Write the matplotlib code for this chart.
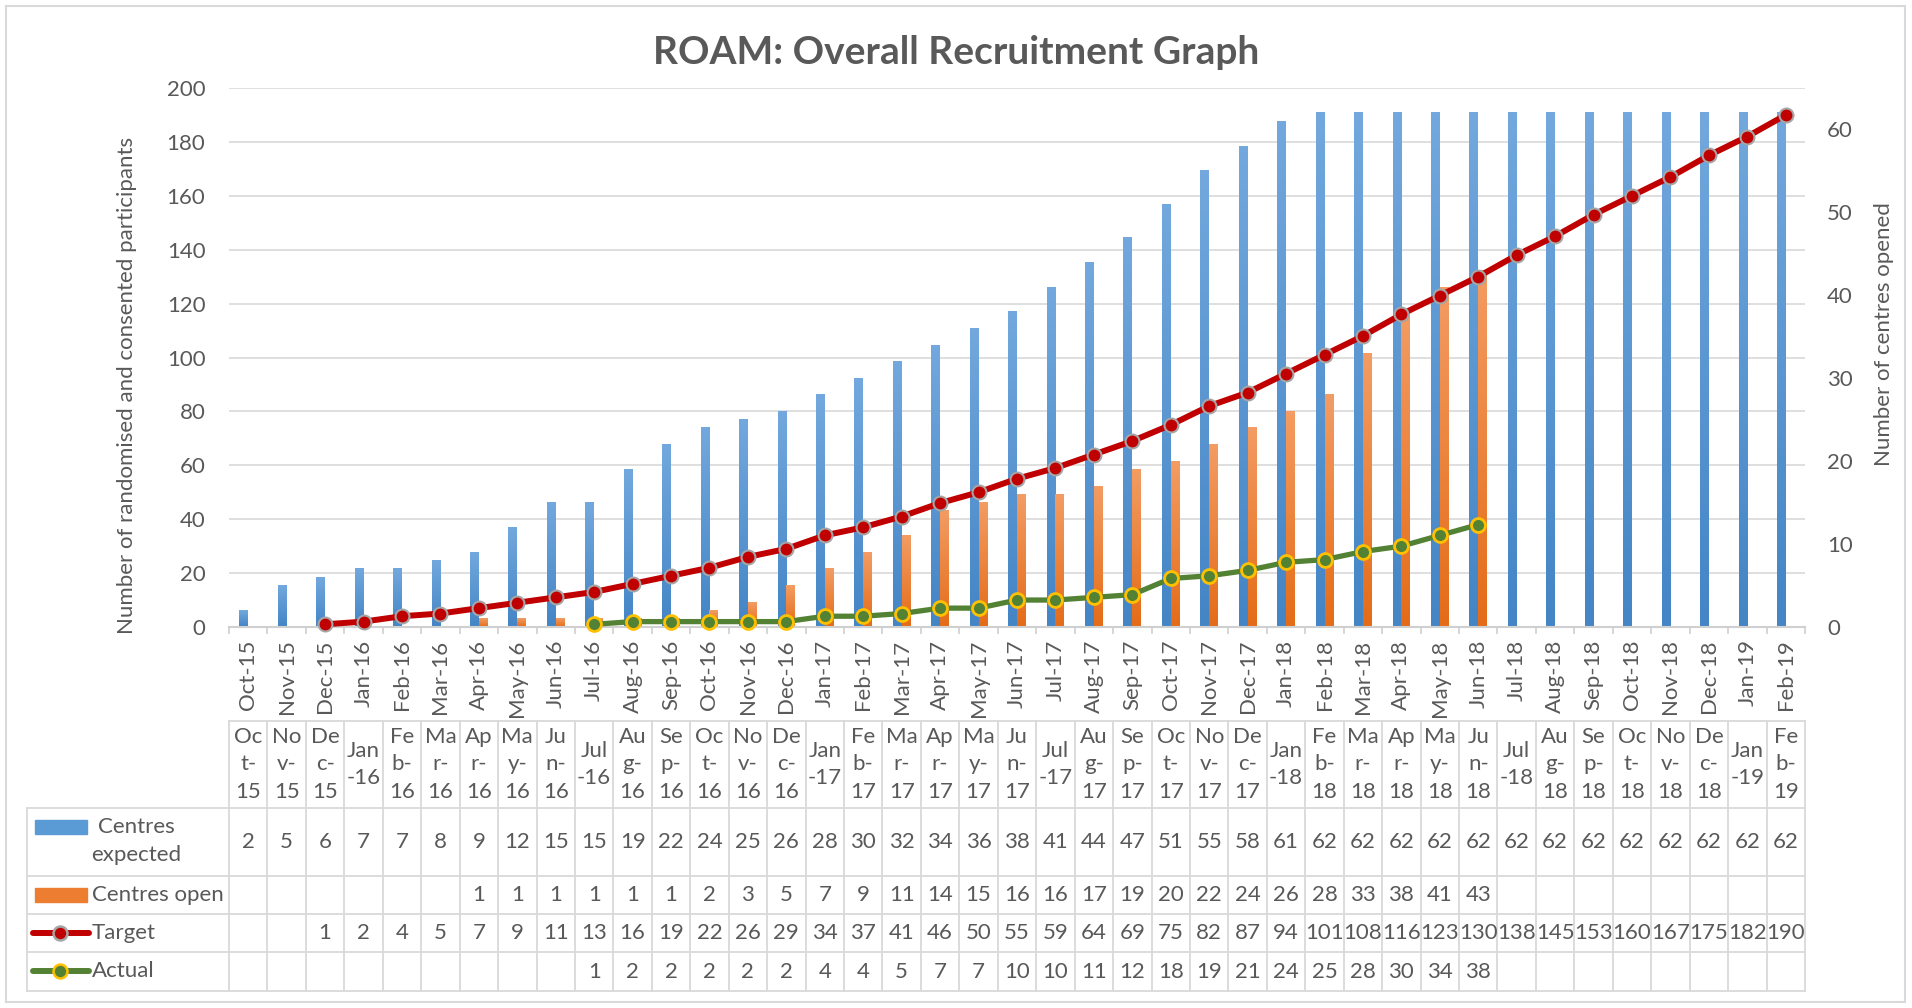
import numpy as np
import matplotlib
matplotlib.use("Agg")
import matplotlib.pyplot as plt
from matplotlib.colors import LinearSegmentedColormap
from matplotlib.patches import Rectangle
from matplotlib.lines import Line2D
from matplotlib.ticker import MultipleLocator
from matplotlib.transforms import blended_transform_factory

plt.rcParams['font.family'] = ['Lato', 'DejaVu Sans']

months = ['Oct-15', 'Nov-15', 'Dec-15',
          'Jan-16', 'Feb-16', 'Mar-16', 'Apr-16', 'May-16', 'Jun-16',
          'Jul-16', 'Aug-16', 'Sep-16', 'Oct-16', 'Nov-16', 'Dec-16',
          'Jan-17', 'Feb-17', 'Mar-17', 'Apr-17', 'May-17', 'Jun-17',
          'Jul-17', 'Aug-17', 'Sep-17', 'Oct-17', 'Nov-17', 'Dec-17',
          'Jan-18', 'Feb-18', 'Mar-18', 'Apr-18', 'May-18', 'Jun-18',
          'Jul-18', 'Aug-18', 'Sep-18', 'Oct-18', 'Nov-18', 'Dec-18',
          'Jan-19', 'Feb-19']
centres_expected = [2, 5, 6, 7, 7, 8, 9, 12, 15, 15, 19, 22, 24, 25, 26,
                    28, 30, 32, 34, 36, 38, 41, 44, 47, 51, 55, 58,
                    61, 62, 62, 62, 62, 62, 62, 62, 62, 62, 62, 62, 62, 62]
centres_open = [None, None, None, None, None, None, 1, 1, 1, 1, 1, 1, 2, 3, 5,
                7, 9, 11, 14, 15, 16, 16, 17, 19, 20, 22, 24,
                26, 28, 33, 38, 41, 43, None, None, None, None, None, None,
                None, None]
target = [None, None, 1, 2, 4, 5, 7, 9, 11, 13, 16, 19, 22, 26, 29,
          34, 37, 41, 46, 50, 55, 59, 64, 69, 75, 82, 87,
          94, 101, 108, 116, 123, 130, 138, 145, 153, 160, 167, 175, 182, 190]
actual = [None, None, None, None, None, None, None, None, None, 1, 2, 2, 2, 2, 2,
          4, 4, 5, 7, 7, 10, 10, 11, 12, 18, 19, 21,
          24, 25, 28, 30, 34, 38, None, None, None, None, None, None,
          None, None]

series_names = ['Centres\nexpected', 'Centres open', 'Target', 'Actual']

# ---- style ----
W, H = 1912, 1008
TXT = '#595959'
GRID = '#d9d9d9'
BLUE, BLUE_TOP, BLUE_BOT = '#5b9bd5', '#72a8dd', '#4485c6'
ORANGE, ORANGE_TOP, ORANGE_BOT = '#ed7d31', '#f39c63', '#e46c18'
RED, GREEN = '#c00000', '#548235'
FS = 16


def arr(v):
    return np.array([np.nan if a is None else a for a in v], dtype=float)


def fy(py):
    return 1 - py / H


def shade(ax, bars, c_top, c_bot):
    cmap = LinearSegmentedColormap.from_list('g', [c_bot, c_top])
    grad = np.linspace(0, 1, 64).reshape(-1, 1)
    for b in bars:
        h = b.get_height()
        if not np.isfinite(h) or h <= 0:
            continue
        x0, y0, w = b.get_x(), b.get_y(), b.get_width()
        ax.imshow(grad, extent=[x0, x0 + w, y0, y0 + h], origin='lower',
                  aspect='auto', cmap=cmap, zorder=b.get_zorder(),
                  interpolation='bilinear')
        b.set_alpha(0)


fig = plt.figure(figsize=(W / 100, H / 100), dpi=100)
ax = fig.add_axes([229 / W, fy(627), (1805 - 229) / W, (627 - 88) / H])
ax2 = ax.twinx()

x = np.arange(len(months))

# bars: centres (right axis)
b1 = ax.bar(x - 0.115, arr(centres_expected), width=0.23, color=BLUE, zorder=2)
b2 = ax.bar(x + 0.115, arr(centres_open), width=0.23, color=ORANGE, zorder=2)
shade(ax, b1, BLUE_TOP, BLUE_BOT)
shade(ax, b2, ORANGE_TOP, ORANGE_BOT)

ax.set_xlim(-0.5, len(months) - 0.5)
ax.set_ylim(0, 65)
ax.yaxis.tick_right()
ax.yaxis.set_major_locator(MultipleLocator(10))
ax.yaxis.set_minor_locator(MultipleLocator(6.5))   # left-axis gridlines every 20
ax.grid(which='minor', axis='y', color=GRID, lw=1.2, zorder=0)
ax.set_axisbelow(True)
ax.tick_params(axis='y', which='both', length=0, labelsize=FS, labelcolor=TXT, pad=16)

ax.set_xticks(x)
ax.set_xticklabels(months, rotation=90)
ax.set_xticks(np.arange(-0.5, len(months), 1), minor=True)
ax.tick_params(axis='x', which='major', length=0, labelsize=FS, labelcolor=TXT, pad=9)
ax.tick_params(axis='x', which='minor', length=5, width=1.2, color='#d0d0d0', direction='out')

for s in ['top', 'left', 'right']:
    ax.spines[s].set_visible(False)
ax.spines['bottom'].set_color('#d0d0d0')
ax.spines['bottom'].set_linewidth(1.5)

# lines: participants (left axis)
ax2.plot(x, arr(target), color=RED, lw=4.3, marker='o', ms=10, mfc=RED,
         mec='#a5a5a5', mew=1.5, zorder=3, clip_on=False)
ax2.plot(x, arr(actual), color=GREEN, lw=3.8, marker='o', ms=10, mfc=GREEN,
         mec='#ffc000', mew=2, zorder=3, clip_on=False)
ax2.set_ylim(0, 200)
ax2.yaxis.tick_left()
ax2.yaxis.set_major_locator(MultipleLocator(20))
ax2.tick_params(axis='y', length=0, labelsize=FS, labelcolor=TXT, pad=17)
for s in ax2.spines.values():
    s.set_visible(False)

# titles
fig.text(0.5, fy(53), 'ROAM: Overall Recruitment Graph', ha='center', va='center',
         fontsize=28, fontweight='bold', color=TXT)
fig.text(127 / W, fy(385), 'Number of randomised and consented participants',
         rotation=90, ha='center', va='center', fontsize=FS, color=TXT)
fig.text(1884 / W, fy(334), 'Number of centres opened',
         rotation=90, ha='center', va='center', fontsize=FS, color=TXT)

# ---- data table ----
tr = blended_transform_factory(ax.transData, fig.transFigure)
rows_y = [721, 808, 876, 914, 952, 991]
tab_left = 27 / W
tab_right = 1805 / W
lw_t = 1.3

# horizontal rules
fig.add_artist(Line2D([229 / W, tab_right], [fy(rows_y[0])] * 2, color=GRID, lw=lw_t))
for ry in rows_y[1:]:
    fig.add_artist(Line2D([tab_left, tab_right], [fy(ry)] * 2, color=GRID, lw=lw_t))
# vertical rules
for b in np.arange(-0.5, len(months), 1):
    fig.add_artist(Line2D([b, b], [fy(rows_y[0]), fy(rows_y[-1])], color=GRID, lw=lw_t,
                          transform=tr))
fig.add_artist(Line2D([tab_left, tab_left], [fy(rows_y[1]), fy(rows_y[-1])], color=GRID, lw=lw_t))


def wrap(m):
    mon, yy = m.split('-')
    if mon in ('Jan', 'Jul'):
        return mon + '\n-' + yy
    return mon[:2] + '\n' + mon[2] + '-\n' + yy


hy = (rows_y[0] + rows_y[1]) / 2
for i, m in enumerate(months):
    fig.text(i, fy(hy), wrap(m), transform=tr, ha='center', va='center',
             fontsize=FS, color=TXT, linespacing=1.45, multialignment='center')

table_rows = [centres_expected, centres_open, target, actual]
for r, vals in enumerate(table_rows):
    cy = (rows_y[r + 1] + rows_y[r + 2]) / 2
    for i, v in enumerate(vals):
        if v is None:
            continue
        fig.text(i, fy(cy), str(v), transform=tr, ha='center', va='center',
                 fontsize=FS, color=TXT)

# legend keys in the first column
fig.add_artist(Rectangle((35 / W, fy(834)), 52 / W, 14 / H, color=BLUE))
fig.add_artist(Rectangle((35 / W, fy(902)), 52 / W, 14 / H, color=ORANGE))
for cy, col, mec in [(933, RED, '#a5a5a5'), (971, GREEN, '#ffc000')]:
    fig.add_artist(Line2D([33 / W, 89 / W], [fy(cy)] * 2, color=col, lw=4.3,
                          solid_capstyle='round'))
    fig.add_artist(Line2D([60 / W], [fy(cy)], marker='o', ms=10, mfc=col, mec=mec,
                          mew=1.8, lw=0))

fig.text(136 / W, fy(841), series_names[0], ha='center', va='center', fontsize=FS,
         color=TXT, multialignment='center', linespacing=1.5)
for name, cy in zip(series_names[1:], [895, 933, 971]):
    fig.text(92 / W, fy(cy), name, ha='left', va='center', fontsize=FS, color=TXT)

# outer frame
fig.add_artist(Rectangle((6 / W, 6 / H), 1899 / W, 996 / H, fill=False,
                         edgecolor=GRID, lw=1.5))

fig.savefig('out.png', dpi=100)
